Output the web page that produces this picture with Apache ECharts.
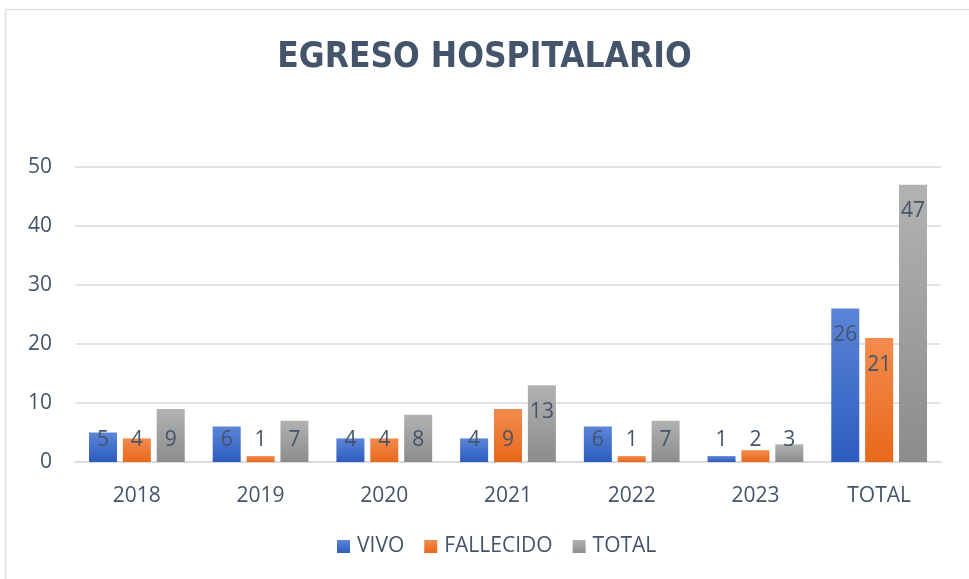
<!DOCTYPE html>
<html>
<head>
<meta charset="utf-8">
<script src="https://cdn.jsdelivr.net/npm/echarts@6/dist/echarts.min.js"></script>
<style>
  html, body { margin: 0; padding: 0; background: #fff; }
  #chart { width: 969px; height: 579px; }
</style>
</head>
<body>
<div id="chart"></div>
<script>
const categories = ['2018', '2019', '2020', '2021', '2022', '2023', 'TOTAL'];
const vivo = [5, 6, 4, 4, 6, 1, 26];
const fallecido = [4, 1, 4, 9, 1, 2, 21];
const total = [9, 7, 8, 13, 7, 3, 47];
const yTicks = { min: 0, max: 50, interval: 10 };

const FONT = '"Open Sans", "Noto Sans", sans-serif';
const TEXT = '#44546A';

function grad(top, bottom) {
    return new echarts.graphic.LinearGradient(0, 0, 0, 1, [
        { offset: 0, color: top },
        { offset: 1, color: bottom }
    ]);
}

// small bars keep their label near the axis, tall ones at the top inside
function withLabels(values) {
    return values.map(v => ({
        value: v,
        label: v < 10
            ? { position: 'insideBottom', distance: 11 }
            : { position: 'insideTop', distance: 16 }
    }));
}

function barSeries(name, values, top, bottom) {
    return {
        name: name,
        type: 'bar',
        barWidth: 28,
        barGap: '21%',
        data: withLabels(values),
        itemStyle: { color: grad(top, bottom) },
        label: {
            show: true,
            color: TEXT,
            fontSize: 21,
            fontFamily: FONT
        }
    };
}

const myChart = echarts.init(document.getElementById('chart'));
const option = {
    animation: false,
    graphic: [{
        type: 'rect',
        shape: { x: 5.5, y: 9.5, width: 1000, height: 1000 },
        style: { fill: 'none', stroke: '#DCE1E8', lineWidth: 1.5 },
        silent: true
    }],
    title: {
        text: 'EGRESO HOSPITALARIO',
        left: 'center',
        top: 35,
        textStyle: {
            color: TEXT,
            fontSize: 35,
            fontWeight: 'bold',
            fontFamily: '"Liberation Sans Narrow", "DejaVu Sans Condensed", "Open Sans", sans-serif'
        }
    },
    legend: {
        bottom: 17,
        left: 332,
        itemWidth: 13,
        itemHeight: 13,
        itemGap: 20,
        icon: 'rect',
        textStyle: { color: TEXT, fontSize: 21, fontFamily: FONT, padding: [0, 0, 0, 2] },
        data: ['VIVO', 'FALLECIDO', 'TOTAL']
    },
    grid: { left: 75, right: 28, top: 167, bottom: 117 },
    xAxis: {
        type: 'category',
        data: categories,
        axisTick: { show: false },
        axisLine: { lineStyle: { color: '#D9D9D9', width: 1.5 } },
        axisLabel: { color: TEXT, fontSize: 21, fontFamily: FONT, margin: 24 }
    },
    yAxis: {
        type: 'value',
        min: yTicks.min,
        max: yTicks.max,
        interval: yTicks.interval,
        axisLine: { show: false },
        axisTick: { show: false },
        splitLine: { lineStyle: { color: '#D9D9D9', width: 1.5 } },
        axisLabel: { color: TEXT, fontSize: 21, fontFamily: FONT, margin: 23 }
    },
    series: [
        barSeries('VIVO', vivo, '#5B85D8', '#2C5CBE'),
        barSeries('FALLECIDO', fallecido, '#F38B4E', '#E8681A'),
        barSeries('TOTAL', total, '#B2B2B2', '#8C8C8C')
    ]
};
myChart.setOption(option, true);
</script>
</body>
</html>
